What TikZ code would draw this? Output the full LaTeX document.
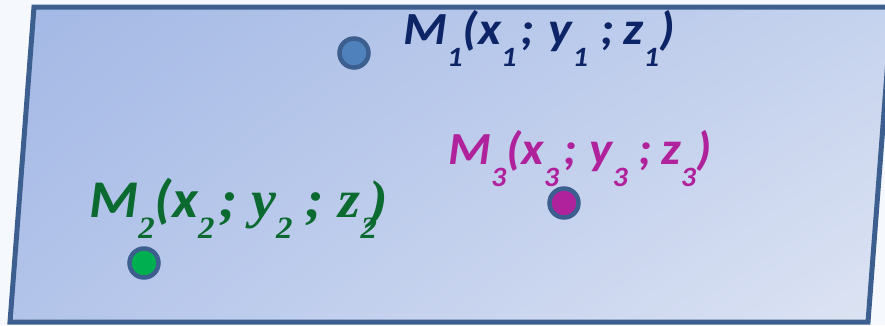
\documentclass[tikz,border=0pt]{standalone}
\usepackage{fontspec}
\usetikzlibrary{shadings}
\setmainfont{Carlito}
\newfontfamily\serifit{Liberation Serif}
\definecolor{bgout}{HTML}{F5F9FD}
\definecolor{planeA}{HTML}{A3B8E5}
\definecolor{planeB}{HTML}{C6D3EE}
\definecolor{planeC}{HTML}{B3C4EA}
\definecolor{planeD}{HTML}{DDE4F3}
\definecolor{edge}{HTML}{3C5F8F}
\definecolor{navy}{HTML}{0D2466}
\definecolor{magen}{HTML}{B0229C}
\definecolor{dkgreen}{HTML}{0A6A30}
\definecolor{dotblue}{HTML}{4F81BD}
\definecolor{dotgreen}{HTML}{00B050}
\newcommand\subl[1]{\raisebox{-22pt}{\fontsize{28}{28}\selectfont #1}}
\newcommand\subg[1]{\raisebox{-21pt}{\serifit\fontsize{31}{31}\selectfont #1}}
\tikzset{
  pointdot/.style={circle, draw=edge, line width=4.5pt, minimum size=29pt, inner sep=0pt},
  lbl/.style={anchor=base west, inner sep=0pt, font=\bfseries\itshape\fontsize{46}{46}\selectfont},
}
\begin{document}
\begin{tikzpicture}[x=1pt,y=-1pt]
\useasboundingbox (0,0) rectangle (885,325);
\clip (0,0) rectangle (885,325);
\fill[bgout] (0,0) rectangle (885,325);
\shade[upper left=planeA, upper right=planeB, lower left=planeC, lower right=planeD]
  (34,7) -- (892,7) -- (868,322) -- (10,322) -- cycle;
\draw[edge, line width=5pt, line join=miter] (34,7) -- (892,7) -- (868,322) -- (10,322) -- cycle;
\node[pointdot, fill=dotblue] (d1) at (354,53) {};
\node[pointdot, fill=magen] (d3) at (564,203) {};
\node[pointdot, fill=dotgreen] (d2) at (144,263) {};
\node[lbl, text=navy] (l1) at (403,44) {\scalebox{1.09}[1]{M\subl{1}(x\subl{1}\hspace{4pt};\hspace{13pt}y\subl{1}\hspace{11pt};\hspace{9pt}z\subl{1})}};
\node[lbl, text=magen] (l3) at (448,164) {\scalebox{1.065}[1]{M\subl{3}(x\subl{3}\hspace{4pt};\hspace{12pt}y\subl{3}\hspace{10pt};\hspace{9pt}z\subl{3})}};
\node[lbl, text=dkgreen, font=\bfseries\itshape\fontsize{53}{53}\selectfont] (l2) at (89,217) {\scalebox{1.06}[1]{M\subg{2}(x\subg{2}{\serifit\hspace{5pt};\hspace{12pt}y\subg{2}\hspace{12pt};\hspace{14pt}z\subg{2}\hspace{-7pt})}}};
\end{tikzpicture}
\end{document}
